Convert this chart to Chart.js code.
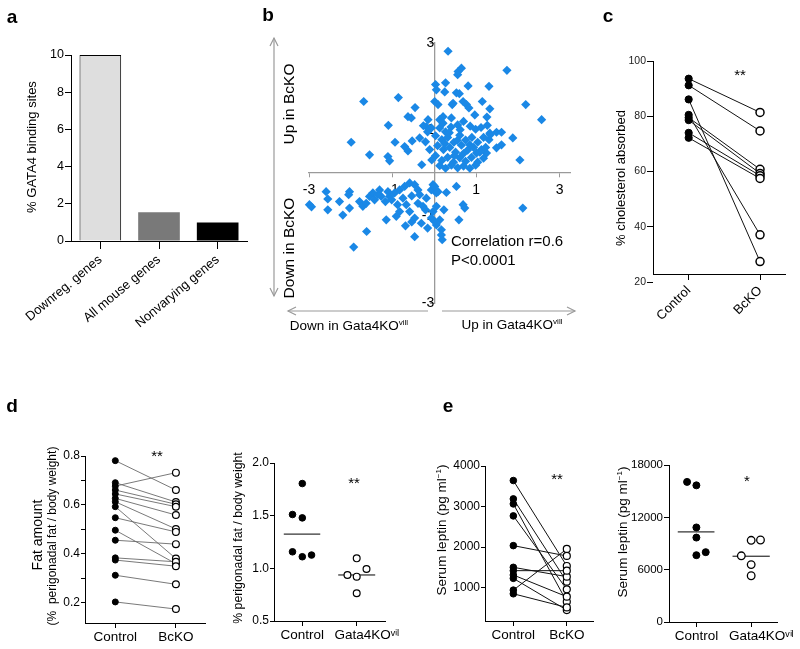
<!DOCTYPE html>
<html><head><meta charset="utf-8">
<script src="https://cdn.jsdelivr.net/npm/chart.js@4.4.0/dist/chart.umd.min.js"></script>
<style>
html,body{margin:0;padding:0;background:#fff;}
#root{position:relative;width:800px;height:649px;overflow:hidden;font-family:"Liberation Sans",Arial,Helvetica,sans-serif;color:#000;background:#fff;}
canvas{position:absolute;}
.t{position:absolute;white-space:nowrap;line-height:1;transform:translate(-50%,-50%);}
.r{transform:translate(-50%,-50%) rotate(-90deg);}
.lft{transform:translate(0,-50%);}
.L{position:absolute;white-space:nowrap;font-weight:bold;font-size:19px;line-height:1;transform:translate(-50%,-50%);}
sup{font-size:0.6em;vertical-align:0.6em;line-height:0;}
svg{position:absolute;left:0;top:0;}
</style></head>
<body><div id="root">
<canvas id="ca"></canvas><canvas id="cb"></canvas><canvas id="cc"></canvas>
<canvas id="cd1"></canvas><canvas id="cd2"></canvas><canvas id="ce1"></canvas><canvas id="ce2"></canvas>
<svg width="800" height="649">
 <g stroke="#9a9a9a" stroke-width="1.2" fill="none">
  <line x1="274" y1="38" x2="274" y2="296"/>
  <polyline points="270,46 274,38 278,46"/>
  <polyline points="270,288 274,296 278,288"/>
  <line x1="288" y1="311" x2="428" y2="311"/>
  <polyline points="296,307 288,311 296,315"/>
  <line x1="442" y1="311" x2="575" y2="311"/>
  <polyline points="567,307 575,311 567,315"/>
 </g>
</svg>
<div class="L" style="left:12px;top:16px">a</div>
<div class="L" style="left:268px;top:14px">b</div>
<div class="L" style="left:608px;top:15px">c</div>
<div class="L" style="left:12px;top:405px">d</div>
<div class="L" style="left:448px;top:405px">e</div>

<div class="t r" style="left:31px;top:147px;font-size:13px">% GATA4 binding sites</div>

<div class="t r" style="left:289px;top:104px;font-size:15.5px">Up in BcKO</div>
<div class="t r" style="left:289px;top:248px;font-size:15.5px">Down in BcKO</div>
<div class="t" style="left:349px;top:326px;font-size:13.5px">Down in Gata4KO<sup>vill</sup></div>
<div class="t" style="left:512px;top:325px;font-size:13.5px">Up in Gata4KO<sup>vill</sup></div>
<div class="t lft" style="left:451px;top:240px;font-size:15px">Correlation r=0.6</div>
<div class="t lft" style="left:451px;top:259px;font-size:15px">P&lt;0.0001</div>

<div class="t r" style="left:620px;top:178px;font-size:13px">% cholesterol absorbed</div>
<div class="t" style="left:740px;top:74px;font-size:15px">**</div>

<div class="t r" style="left:37px;top:535px;font-size:14px">Fat amount</div>
<div class="t r" style="left:52px;top:536px;font-size:12px">(%&nbsp; perigonadal fat / body weight)</div>
<div class="t" style="left:157px;top:455px;font-size:15px">**</div>
<div class="t r" style="left:238px;top:538px;font-size:12.3px">% perigonadal fat / body weight</div>
<div class="t" style="left:354px;top:482px;font-size:15px">**</div>

<div class="t r" style="left:442px;top:530px;font-size:13.5px">Serum leptin (pg ml<sup>−1</sup>)</div>
<div class="t" style="left:557px;top:478px;font-size:15px">**</div>
<div class="t r" style="left:623px;top:532px;font-size:13.5px">Serum leptin (pg ml<sup>−1</sup>)</div>
<div class="t" style="left:747px;top:480px;font-size:15px">*</div>
</div>
<script>
// ---------------- data ----------------
// panel a
const aCategories = ['Downreg. genes', 'All mouse genes', 'Nonvarying genes'];
const aValues = [10, 1.55, 1.0];
const aTicks = [0, 2, 4, 6, 8, 10];

// panel b (log ratio Gata4KOvill vs BcKO)
const bX = [0.33,-1.69,-0.86,-0.46,0.03,0.27,0.25,0.05,0.01,0.09,0.43,0.53,0.56,-0.63,-0.55,-0.15,0.13,0.21,-1.10,-1.99,-1.55,-0.94,-0.53,-0.71,-0.63,-1.11,-1.07,0.57,0.65,1.74,0.81,1.31,0.60,2.19,0.69,0.77,0.83,1.15,1.33,0.97,1.26,2.57,1.33,1.49,1.61,1.88,1.61,1.49,2.05,0.45,0.21,0.41,1.13,1.25,1.01,0.85,1.31,-0.19,-0.07,
 0.13,0.27,0.40,0.56,0.70,0.86,0.99,1.12,1.27,0.03,0.18,0.32,0.47,0.61,0.75,0.90,1.04,1.18,1.34,0.08,0.22,0.37,0.51,0.65,0.80,0.94,1.09,1.23,0.03,0.18,0.32,0.46,0.61,0.75,0.89,1.04,1.18,0.13,0.27,0.41,0.56,0.70,0.85,0.99,-0.11,-0.21,-0.06,-0.16,-0.35,-0.26,-0.30,0.36,0.62,0.48,0.70,0.25,0.55,
 -2.99,-2.94,-2.59,-2.55,-2.55,-2.19,-2.03,-2.05,-2.03,-1.79,-1.71,-1.63,-1.55,-1.47,-1.31,-1.27,-1.17,-1.07,-0.95,-0.83,-0.71,-0.59,-0.47,-0.39,-0.75,-0.67,-0.83,-0.59,-0.47,-0.39,-0.27,-0.19,-0.07,-0.03,0.05,-0.03,0.13,0.05,0.17,0.19,-1.15,-1.62,-1.93,-0.47,-0.69,-0.91,-0.31,0.29,0.53,0.23,-0.07,0.01,-1.43,-1.35,-1.11,0.01,0.09,0.69,0.73,0.59,2.12,0.05,0.17,-1.02,-0.88,-0.54,-0.35,-0.21,-0.54,-0.16,-2.27];
const bY = [2.81,1.65,1.74,1.51,2.04,2.08,1.87,1.92,1.65,1.58,1.58,1.85,2.27,1.30,1.27,1.23,1.23,1.15,1.10,0.71,0.42,0.71,0.74,0.61,0.51,0.38,0.28,2.34,2.42,2.37,2.01,2.00,1.83,1.58,1.65,1.58,1.50,1.65,1.48,1.34,1.29,1.23,0.92,0.94,0.94,0.81,0.65,0.58,0.30,1.61,1.30,1.27,0.54,0.46,0.46,0.65,0.77,1.07,1.04,
 1.04,0.95,1.06,1.11,1.19,1.08,1.01,1.05,1.10,0.86,0.77,0.82,0.71,0.87,0.76,0.82,0.71,0.82,0.88,0.63,0.54,0.59,0.48,0.64,0.53,0.59,0.48,0.59,0.40,0.29,0.36,0.25,0.35,0.27,0.36,0.25,0.34,0.17,0.11,0.18,0.12,0.16,0.11,0.18,0.54,0.72,0.30,0.95,0.81,1.09,0.19,0.93,1.00,0.40,0.45,0.68,0.75,
 -0.73,-0.78,-0.43,-0.60,-0.85,-0.97,-0.43,-0.50,-0.81,-0.66,-0.77,-0.70,-0.54,-0.46,-0.39,-0.54,-0.66,-0.54,-0.46,-0.39,-0.31,-0.23,-0.27,-0.39,-0.58,-0.73,-0.89,-0.89,-1.04,-0.70,-0.77,-0.58,-0.39,-0.27,-0.46,-0.89,-1.08,-1.20,-1.31,-1.54,-1.08,-1.35,-1.71,-1.47,-1.22,-1.00,-1.16,-0.45,-0.31,-0.85,-1.04,-1.12,-0.62,-0.50,-0.43,-0.31,-0.43,-0.73,-0.81,-1.08,-0.81,-0.77,-1.43,-0.62,-0.73,-0.53,-0.50,-0.85,-1.13,-1.27,-0.66];
const bTicks = [-3, -1, 1, 3];

// panel c
const cGroups = ['Control', 'BcKO'];
const cControl = [93.6, 91.2, 86.1, 80.5, 79.5, 78.6, 74.0, 72.2];
const cBcKO    = [81.4, 74.7, 27.4, 37.1, 60.8, 59.3, 58.5, 57.5];
const cTicks = [20, 40, 60, 80, 100];

// panel d (left, paired)
const dGroups = ['Control', 'BcKO'];
const dControl = [0.781,0.691,0.677,0.661,0.645,0.627,0.613,0.593,0.548,0.497,0.456,0.384,0.375,0.313,0.204];
const dBcKO    = [0.661,0.612,0.732,0.603,0.593,0.559,0.502,0.381,0.490,0.360,0.440,0.368,0.350,0.276,0.175];
const dTicks = [0.2, 0.3, 0.4, 0.5, 0.6, 0.7, 0.8];
const dTickLabels = ['0.2', '', '0.4', '', '0.6', '', '0.8'];

// panel d (right, groups)
const d2Groups = ['Control', '\u2002\u2002\u2002Gata4KOᵛⁱˡ'];
const d2Control = [1.805, 1.511, 1.479, 1.157, 1.110, 1.126];
const d2ControlX = [0, -0.18, 0, -0.18, 0, 0.17];
const d2KO = [1.095, 0.993, 0.937, 0.921, 0.763];
const d2KOX = [1, 1.18, 0.83, 1, 1];
const d2Medians = [1.325, 0.937];
const d2Ticks = [0.5, 1.0, 1.5, 2.0];
const d2TickLabels = ['0.5', '1.0', '1.5', '2.0'];

// panel e (left, paired)
const eGroups = ['Control', 'BcKO'];
const eControl = [3642, 3189, 3066, 2770, 2037, 1502, 1420, 1313, 1230, 940, 850];
const eBcKO    = [1535, 1148,  654,  959, 1782, 1272, 1420,  778,  448, 1955, 514];
const eTicks = [1000, 2000, 3000, 4000];

// panel e (right, groups)
const e2Groups = ['Control', '\u2002\u2002\u2002Gata4KOᵛⁱˡ'];
const e2Control = [16062, 15667, 10839, 9679, 7659, 8007];
const e2ControlX = [-0.17, 0, 0, 0, 0, 0.17];
const e2KO = [9365, 9400, 7590, 6580, 5303];
const e2KOX = [1, 1.17, 0.82, 1, 1];
const e2Medians = [10328, 7543];
const e2Ticks = [0, 6000, 12000, 18000];

// ---------------- helpers ----------------
const FONT = '"Liberation Sans", Arial, Helvetica, sans-serif';
Chart.defaults.font.family = FONT;
Chart.defaults.color = '#000';
Chart.defaults.animation = false;

function setup(id, area, bx) {
  const c = document.getElementById(id);
  const L = area[0] - bx.yw - bx.pl, T = area[1] - bx.pt;
  const W = area[2] - area[0] + bx.yw + bx.pl + bx.pr;
  const H = area[3] - area[1] + bx.xh + bx.pt + bx.pb;
  c.width = W; c.height = H;
  c.style.left = L + 'px'; c.style.top = T + 'px';
  c.style.width = W + 'px'; c.style.height = H + 'px';
  return c;
}
function common(bx) {
  return {
    responsive: false, animation: false, events: [],
    layout: {padding: {left: bx.pl, top: bx.pt, right: bx.pr, bottom: bx.pb}},
    plugins: {legend: {display: false}, tooltip: {enabled: false}}
  };
}
function yAxis(o) {
  return {
    type: 'linear', min: o.min, max: o.max,
    afterBuildTicks: s => { s.ticks = o.ticks.map(v => ({value: v})); },
    afterFit: s => { s.width = o.w; },
    ticks: {autoSkip: false, padding: o.pad, color: o.color || '#000', font: {family: FONT, size: o.size},
            callback: (v, i) => o.labels[i]},
    grid: {display: true, drawOnChartArea: false, drawTicks: true, tickLength: o.tl, tickWidth: 1, tickColor: '#000'},
    border: {display: true, color: '#000', width: 1}
  };
}
function xAxis(o) {
  return {
    type: 'linear', min: o.min, max: o.max,
    afterBuildTicks: s => { s.ticks = o.ticks.map(v => ({value: v})); },
    afterFit: s => { s.height = o.h; },
    ticks: {autoSkip: false, padding: o.pad, color: '#000', font: {family: FONT, size: o.size},
            maxRotation: o.rot || 0, minRotation: o.rot || 0, callback: (v, i) => o.labels[i]},
    grid: {display: true, drawOnChartArea: false, drawTicks: true, tickLength: o.tl, tickWidth: 1, tickColor: '#000'},
    border: {display: true, color: '#000', width: 1}
  };
}
function pairedSets(ctrl, ko, st) {
  const ds = [];
  ctrl.forEach((v, i) => ds.push({data: [{x: 0, y: v}, {x: 1, y: ko[i]}], showLine: true, borderColor: st.lc,
    borderWidth: st.lw, pointRadius: 0, order: 3, clip: false}));
  ds.push({data: ctrl.map(v => ({x: 0, y: v})), pointRadius: st.r1, backgroundColor: '#000', borderColor: '#000',
    borderWidth: 1, order: 2, clip: false});
  ds.push({data: ko.map(v => ({x: 1, y: v})), pointRadius: st.r2, backgroundColor: '#fff', borderColor: '#000',
    borderWidth: st.bw, order: 1, clip: false});
  return ds;
}
function groupSets(ctrl, ctrlX, ko, koX, med, st) {
  return [
    {data: [{x: -0.34, y: med[0]}, {x: 0.33, y: med[0]}], showLine: true, borderColor: '#000', borderWidth: 1, pointRadius: 0, order: 3, clip: false},
    {data: [{x: 0.66, y: med[1]}, {x: 1.34, y: med[1]}], showLine: true, borderColor: '#000', borderWidth: 1, pointRadius: 0, order: 3, clip: false},
    {data: ctrl.map((v, i) => ({x: ctrlX[i], y: v})), pointRadius: st.r1, backgroundColor: '#000', borderColor: '#000', borderWidth: 1, order: 2, clip: false},
    {data: ko.map((v, i) => ({x: koX[i], y: v})), pointRadius: st.r2, backgroundColor: '#fff', borderColor: '#000', borderWidth: st.bw, order: 1, clip: false}
  ];
}

// ---------------- panel a ----------------
(function () {
  const bx = {yw: 60, pl: 5, pt: 10, pr: 15, xh: 90, pb: 5};
  new Chart(setup('ca', [71, 55, 247, 241], bx), {
    type: 'bar',
    data: {labels: aCategories, datasets: [{data: aValues,
      backgroundColor: ['#dedede', '#797979', '#000000'],
      borderColor: ['#000000', '#797979', '#000000'], borderWidth: [1, 0, 0],
      barPercentage: 0.71, categoryPercentage: 1}]},
    options: Object.assign(common(bx), {scales: {
      x: {type: 'category', offset: true, afterFit: s => { s.height = bx.xh; },
        ticks: {autoSkip: false, maxRotation: 40, minRotation: 40, padding: 3, font: {size: 13}, color: '#000'},
        grid: {display: true, offset: false, drawOnChartArea: false, drawTicks: true, tickLength: 8, tickColor: '#000'},
        border: {display: true, color: '#000', width: 1}},
      y: yAxis({min: 0, max: 10, ticks: aTicks, labels: aTicks.map(String), w: bx.yw, size: 12.5, tl: 6, pad: 1})
    }})
  });
})();

// ---------------- panel b ----------------
(function () {
  const bx = {yw: 0, pl: 20, pt: 20, pr: 20, xh: 0, pb: 20};
  const tickFont = {family: FONT, size: 14};
  new Chart(setup('cb', [309, 43, 570, 303], bx), {
    type: 'scatter',
    data: {datasets: [{data: bX.map((x, i) => ({x: x, y: bY[i]})), pointStyle: 'rectRot', pointRadius: 4.6,
      backgroundColor: '#1a88e6', borderColor: '#1a88e6', borderWidth: 0, clip: false}]},
    options: Object.assign(common(bx), {scales: {
      x: {type: 'linear', min: -3, max: 3.25, position: {y: 0},
        afterBuildTicks: s => { s.ticks = bTicks.map(v => ({value: v})); },
        ticks: {autoSkip: false, maxRotation: 0, padding: 5, font: tickFont, color: '#000', callback: v => String(v)},
        grid: {display: true, drawOnChartArea: false, drawTicks: true, tickLength: 4, tickColor: '#9a9a9a'},
        border: {display: true, color: '#9a9a9a', width: 1.3}},
      y: {type: 'linear', min: -3, max: 3, position: {x: 0},
        afterBuildTicks: s => { s.ticks = bTicks.map(v => ({value: v})); },
        ticks: {autoSkip: false, padding: 8, font: tickFont, color: '#000', callback: v => String(v)},
        grid: {display: true, drawOnChartArea: false, drawTicks: true, tickLength: 4, tickColor: '#9a9a9a'},
        border: {display: true, color: '#9a9a9a', width: 1.3}}
    }})
  });
})();

// ---------------- panel c ----------------
(function () {
  const bx = {yw: 35, pl: 5, pt: 10, pr: 10, xh: 60, pb: 5};
  new Chart(setup('cc', [653, 61, 785, 274], bx), {
    type: 'scatter',
    data: {datasets: pairedSets(cControl, cBcKO, {lc: '#111', lw: 1, r1: 3.6, r2: 4, bw: 1.5})},
    options: Object.assign(common(bx), {scales: {
      x: xAxis({min: -0.5, max: 1.35, ticks: [0, 1], labels: cGroups, h: bx.xh, size: 13, tl: 6, pad: 3, rot: 45}),
      y: yAxis({min: 22.9, max: 100, ticks: cTicks, labels: cTicks.map(String), w: bx.yw, size: 10.5, tl: 6, pad: 1, color: '#222'})
    }})
  });
})();

// ---------------- panel d left ----------------
(function () {
  const bx = {yw: 30, pl: 5, pt: 10, pr: 15, xh: 30, pb: 5};
  new Chart(setup('cd1', [85, 456, 205, 623], bx), {
    type: 'scatter',
    data: {datasets: pairedSets(dControl, dBcKO, {lc: '#6a6a6a', lw: 0.9, r1: 3, r2: 3.4, bw: 1.2})},
    options: Object.assign(common(bx), {scales: {
      x: xAxis({min: -0.5, max: 1.48, ticks: [0, 1], labels: dGroups, h: bx.xh, size: 13.5, tl: 5, pad: 1}),
      y: yAxis({min: 0.118, max: 0.8, ticks: dTicks, labels: dTickLabels, w: bx.yw, size: 12, tl: 4, pad: 1})
    }})
  });
})();

// ---------------- panel d right ----------------
(function () {
  const bx = {yw: 30, pl: 5, pt: 10, pr: 30, xh: 30, pb: 5};
  new Chart(setup('cd2', [274, 463, 385, 621], bx), {
    type: 'scatter',
    data: {datasets: groupSets(d2Control, d2ControlX, d2KO, d2KOX, d2Medians, {r1: 3.3, r2: 3.4, bw: 1.2})},
    options: Object.assign(common(bx), {scales: {
      x: xAxis({min: -0.52, max: 1.52, ticks: [0, 1], labels: d2Groups, h: bx.xh, size: 13.5, tl: 5, pad: 1}),
      y: yAxis({min: 0.5, max: 2.0, ticks: d2Ticks, labels: d2TickLabels, w: bx.yw, size: 12, tl: 4, pad: 1})
    }})
  });
})();

// ---------------- panel e left ----------------
(function () {
  const bx = {yw: 35, pl: 5, pt: 10, pr: 25, xh: 30, pb: 5};
  new Chart(setup('ce1', [485, 466, 593, 621], bx), {
    type: 'scatter',
    data: {datasets: pairedSets(eControl, eBcKO, {lc: '#111', lw: 1, r1: 3.3, r2: 3.5, bw: 1.2})},
    options: Object.assign(common(bx), {scales: {
      x: xAxis({min: -0.53, max: 1.49, ticks: [0, 1], labels: eGroups, h: bx.xh, size: 13.5, tl: 5, pad: 1}),
      y: yAxis({min: 179, max: 4000, ticks: eTicks, labels: eTicks.map(String), w: bx.yw, size: 12, tl: 4, pad: 1})
    }})
  });
})();

// ---------------- panel e right ----------------
(function () {
  const bx = {yw: 40, pl: 5, pt: 10, pr: 22, xh: 30, pb: 5};
  new Chart(setup('ce2', [669, 465, 778, 622], bx), {
    type: 'scatter',
    data: {datasets: groupSets(e2Control, e2ControlX, e2KO, e2KOX, e2Medians, {r1: 3.5, r2: 3.8, bw: 1.3})},
    options: Object.assign(common(bx), {scales: {
      x: xAxis({min: -0.5, max: 1.48, ticks: [0, 1], labels: e2Groups, h: bx.xh, size: 13.5, tl: 5, pad: 1}),
      y: yAxis({min: 0, max: 18000, ticks: e2Ticks, labels: e2Ticks.map(String), w: bx.yw, size: 11.5, tl: 5, pad: 1})
    }})
  });
})();
</script>
</body></html>
